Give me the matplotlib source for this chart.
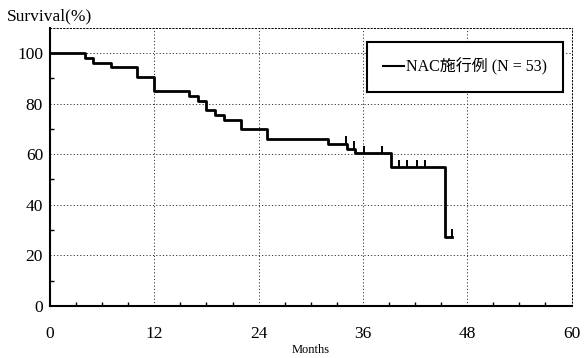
import matplotlib.pyplot as plt

# Kaplan-Meier steps
months = [0, 4, 5, 7, 10, 12, 16, 17, 18, 19, 20, 22, 25, 32, 34.2, 35.1, 39.2, 45.4, 46.2]
surv = [100, 98.1, 96.2, 94.3, 90.6, 84.9, 83.0, 81.1, 77.4, 75.5, 73.6, 69.8, 66.0,
        64.1, 62.2, 60.3, 54.8, 27.4, 27.4]
cens_t = [34.1, 35.0, 36.1, 38.2, 40.2, 41.1, 42.2, 43.2, 46.2]
cens_s = [64.1, 62.2, 60.3, 60.3, 54.8, 54.8, 54.8, 54.8, 27.4]
xticks = [0, 12, 24, 36, 48, 60]
yticks = [0, 20, 40, 60, 80, 100]

plt.rcParams['font.family'] = ['Liberation Serif', 'Noto Sans CJK JP']

fig = plt.figure(figsize=(5.84, 3.58), dpi=100)
ax = fig.add_axes([0.0856, 0.145, 0.893, 0.778])

ax.step(months, surv, where='post', color='black', lw=2.0, label='NAC施行例 (N = 53)')
ax.vlines(cens_t, cens_s, [s + 3 for s in cens_s], color='black', lw=1.4)

ax.set_xlim(0, 60)
ax.set_ylim(0, 110)
ax.set_xticks(xticks)
ax.set_yticks(yticks)
ax.set_xticks(range(0, 61, 3), minor=True)
ax.set_yticks(range(10, 110, 20), minor=True)
ax.tick_params(which='major', length=0, labelsize=12.5)
ax.tick_params(axis='x', which='major', pad=14)
ax.tick_params(axis='y', which='major', pad=5)
ax.tick_params(which='minor', direction='in', length=3, width=1)
ax.grid(True, which='major', linestyle=(0, (1.2, 2.2)), color='#333333', lw=0.7)

for side in ['top', 'right']:
    ax.spines[side].set_linestyle((0, (1.2, 2.2)))
    ax.spines[side].set_linewidth(0.7)
for side in ['left', 'bottom']:
    ax.spines[side].set_linewidth(1.5)

fig.text(0.012, 0.955, 'Survival(%)', fontsize=12.5, ha='left', va='center')
ax.set_xlabel('Months', fontsize=9, labelpad=2)

leg = ax.legend(loc='upper right', bbox_to_anchor=(0.983, 0.948), borderaxespad=0,
                fontsize=11.5, handlelength=1.3, handletextpad=0.1, borderpad=1.0,
                fancybox=False, framealpha=1, edgecolor='black')
leg.get_frame().set_linewidth(1.5)
leg.get_lines()[0].set_linewidth(1.5)

fig.savefig('out.png', dpi=100)
